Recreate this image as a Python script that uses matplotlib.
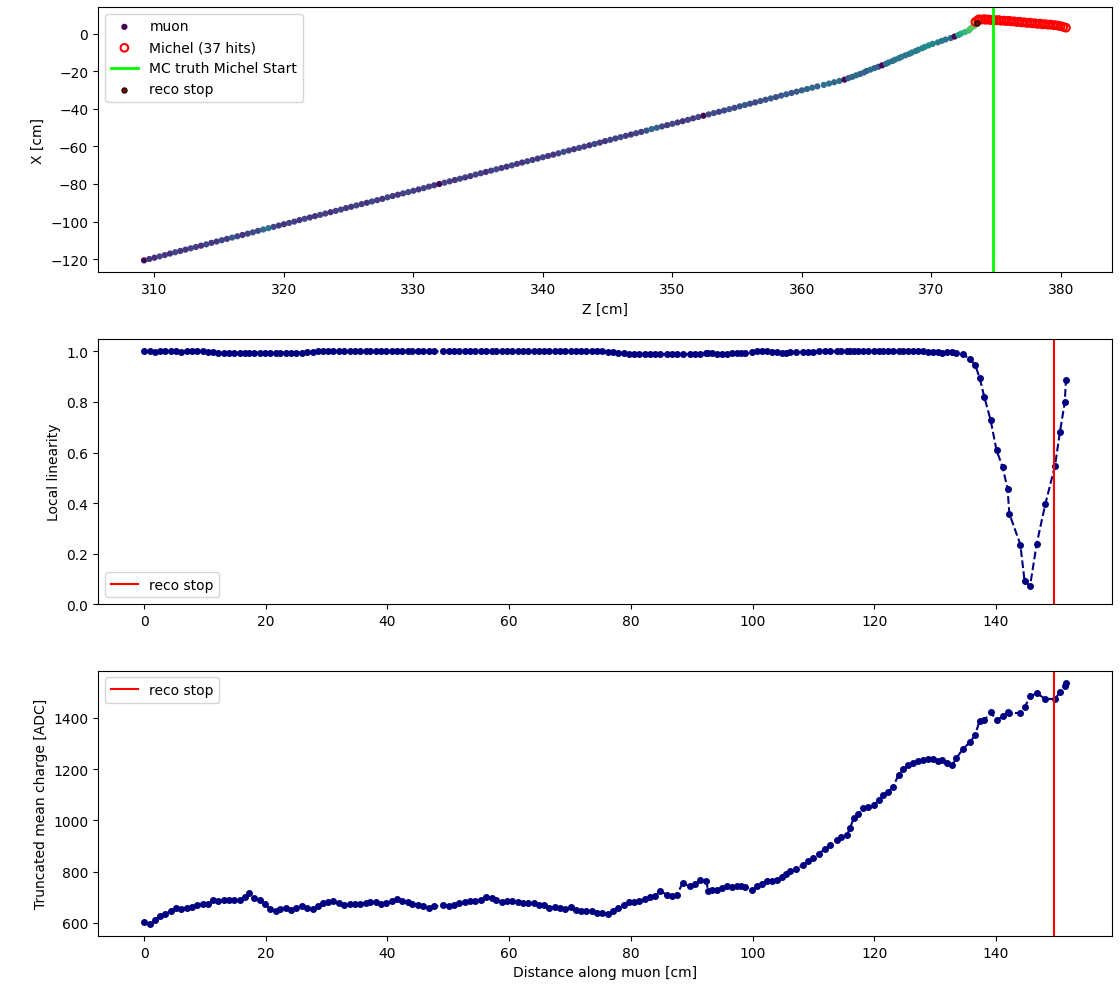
import matplotlib
matplotlib.use("Agg")
import matplotlib.pyplot as plt
import numpy as np

# ---------------- data ----------------
# Top panel: muon hits (Z, X) and hit charge used for colouring
muon_z = [
    309.2, 309.6, 310.0, 310.4, 310.8, 311.2, 311.6, 312.0,
    312.4, 312.8, 313.2, 313.6, 314.0, 314.4, 314.8, 315.2,
    315.6, 316.0, 316.4, 316.8, 317.2, 317.6, 318.0, 318.4,
    318.8, 319.2, 319.6, 320.0, 320.4, 320.8, 321.2, 321.6,
    322.0, 322.4, 322.8, 323.2, 323.6, 324.0, 324.4, 324.8,
    325.2, 325.6, 326.0, 326.4, 326.8, 327.2, 327.6, 328.0,
    328.4, 328.8, 329.2, 329.6, 330.0, 330.4, 330.8, 331.2,
    331.6, 332.0, 332.4, 332.8, 333.2, 333.6, 334.0, 334.4,
    334.8, 335.2, 335.6, 336.0, 336.4, 336.8, 337.2, 337.6,
    338.0, 338.4, 338.8, 339.2, 339.6, 340.0, 340.4, 340.8,
    341.2, 341.6, 342.0, 342.4, 342.8, 343.2, 343.6, 344.0,
    344.4, 344.8, 345.2, 345.6, 346.0, 346.4, 346.8, 347.2,
    347.6, 348.0, 348.4, 348.8, 349.2, 349.6, 350.0, 350.4,
    350.8, 351.2, 351.6, 352.0, 352.4, 352.8, 353.2, 353.6,
    354.0, 354.4, 354.8, 355.2, 355.6, 356.0, 356.4, 356.8,
    357.2, 357.6, 358.0, 358.4, 358.8, 359.2, 359.6, 360.0,
    360.4, 360.8, 361.2, 361.7, 362.1, 362.5, 362.9, 363.3,
    363.6, 363.9, 364.2, 364.5, 364.8, 365.0, 365.3, 365.6, 365.9, 366.2,
    366.5, 366.7, 367.0, 367.2, 367.5, 367.7, 368.0, 368.3, 368.5, 368.8,
    369.0, 369.3, 369.5, 369.8,
    370.1, 370.5, 370.8, 371.1, 371.5, 371.8,
    372.1, 372.3, 372.6, 372.9,
    373.0, 373.1, 373.3, 373.4, 373.5,
]
muon_x = [
    -120.6, -119.9, -119.2, -118.5, -117.8, -117.0, -116.3, -115.6,
    -114.9, -114.2, -113.5, -112.8, -112.1, -111.3, -110.6, -109.9,
    -109.2, -108.5, -107.8, -107.1, -106.4, -105.7, -104.9, -104.2,
    -103.5, -102.8, -102.1, -101.4, -100.7, -100.0, -99.2, -98.5,
    -97.8, -97.1, -96.4, -95.7, -95.0, -94.3, -93.6, -92.8,
    -92.1, -91.4, -90.7, -90.0, -89.3, -88.6, -87.9, -87.1,
    -86.4, -85.7, -85.0, -84.3, -83.6, -82.9, -82.2, -81.4,
    -80.7, -80.0, -79.3, -78.6, -77.9, -77.2, -76.5, -75.8,
    -75.0, -74.3, -73.6, -72.9, -72.2, -71.5, -70.8, -70.1,
    -69.3, -68.6, -67.9, -67.2, -66.5, -65.8, -65.1, -64.4,
    -63.7, -62.9, -62.2, -61.5, -60.8, -60.1, -59.4, -58.7,
    -58.0, -57.2, -56.5, -55.8, -55.1, -54.4, -53.7, -53.0,
    -52.3, -51.6, -50.8, -50.1, -49.4, -48.7, -48.0, -47.3,
    -46.6, -45.9, -45.1, -44.4, -43.7, -43.0, -42.3, -41.6,
    -40.9, -40.2, -39.5, -38.7, -38.0, -37.3, -36.6, -35.9,
    -35.2, -34.5, -33.8, -33.0, -32.3, -31.6, -30.9, -30.2,
    -29.5, -28.8, -28.1, -27.3, -26.6, -25.9, -25.2, -24.5,
    -23.7, -23.0, -22.2, -21.5, -20.7, -19.9, -19.2, -18.4, -17.7, -16.9,
    -16.1, -15.4, -14.6, -13.9, -13.1, -12.4, -11.6, -10.8, -10.1, -9.3,
    -8.6, -7.8, -7.1, -6.3,
    -5.5, -4.7, -3.9, -3.2, -2.4, -1.6,
    -0.8, 0.0, 0.8, 1.6,
    2.4, 3.1, 3.9, 4.6, 5.4,
]
muon_q = [
    100, 240, 210, 280, 250, 220, 290, 240,
    230, 280, 260, 220, 290, 250, 240, 280,
    260, 360, 280, 240, 270, 310, 290, 400,
    460, 290, 250, 230, 280, 260, 240, 290,
    250, 240, 280, 260, 220, 270, 290, 250,
    240, 280, 260, 230, 290, 260, 240, 280,
    250, 230, 270, 300, 260, 240, 280, 260,
    240, 100, 280, 260, 230, 290, 250, 240,
    280, 260, 220, 270, 300, 250, 240, 280,
    260, 230, 290, 260, 240, 280, 250, 240,
    270, 310, 260, 240, 280, 260, 230, 290,
    250, 240, 280, 260, 300, 260, 240, 280,
    260, 330, 400, 380, 290, 250, 290, 260,
    240, 280, 260, 300, 100, 280, 310, 270,
    300, 330, 290, 320, 360, 310, 290, 330,
    320, 350, 310, 340, 370, 330, 350, 370,
    390, 410, 370, 440, 420, 390, 430, 100,
    370, 390, 410, 380, 400, 370, 420, 390, 360, 100,
    410, 440, 420, 460, 430, 470, 440, 450, 480, 460,
    490, 510, 530, 540,
    510, 490, 470, 440, 420, 100,
    600, 650, 700, 720,
    740, 760, 780, 790, 800,
]

michel_z = [373.4, 373.6, 373.7, 373.9, 374.1, 374.2, 374.4, 374.6, 374.8, 375.0,
            375.2, 375.4, 375.6, 375.8, 376.0, 376.2, 376.4, 376.6, 376.8, 377.0,
            377.2, 377.4, 377.6, 377.8, 378.0, 378.2, 378.4, 378.6, 378.8, 379.0,
            379.2, 379.4, 379.6, 379.8, 380.0, 380.2, 380.4]
michel_x = [6.2, 7.2, 7.6, 7.4, 7.7, 7.3, 7.5, 7.1, 7.4, 7.0,
            7.2, 6.8, 6.9, 6.6, 6.8, 6.4, 6.5, 6.1, 6.3, 5.9,
            6.0, 5.6, 5.8, 5.4, 5.5, 5.1, 5.3, 4.9, 5.0, 4.7,
            4.8, 4.5, 4.4, 4.2, 3.9, 3.5, 3.1]

mc_michel_start_z = 374.8
reco_stop_z = 373.5
reco_stop_x = 5.4

# Lower panels: per-hit quantities vs distance along muon
distance = [
    0.0, 0.9, 1.8, 2.6, 3.5, 4.4, 5.3, 6.1, 7.0, 7.9,
    8.7, 9.6, 10.5, 11.4, 12.2, 13.1, 14.0, 14.8, 15.7, 16.6,
    17.2, 18.1, 19.0, 19.8, 20.7, 21.6, 22.4, 23.3, 24.2, 25.0,
    25.9, 26.8, 27.7, 28.5, 29.4, 30.3, 31.1, 32.0, 32.9, 33.8,
    34.6, 35.5, 36.4, 37.2, 38.1, 39.0, 39.8, 40.7, 41.5, 42.4,
    43.3, 44.1, 45.0, 45.9, 46.8, 47.6, 49.2, 50.1, 51.0, 51.8,
    52.7, 53.6, 54.4, 55.3, 56.2, 57.1, 57.9, 58.8, 59.7, 60.5,
    61.4, 62.3, 63.1, 64.0, 64.9, 65.8, 66.6, 67.5, 68.4, 69.2,
    70.1, 71.0, 71.8, 72.7, 73.6, 74.5, 75.3, 76.2, 77.1, 77.9,
    78.8, 79.7, 80.5, 81.4, 82.3, 83.2, 84.0, 84.8, 85.9, 86.7,
    87.5, 88.5, 89.7, 90.5, 91.4, 92.4, 92.7, 93.4, 94.1, 95.0,
    95.8, 96.6, 97.4, 98.1, 98.8, 99.9, 100.8, 101.6, 102.3, 103.2,
    104.0, 104.8, 105.5, 106.2, 107.2, 108.3, 109.1, 110.0, 110.9, 111.9,
    112.8, 113.8, 114.6, 115.5, 116.0, 116.6, 117.4, 118.2, 119.0, 119.9,
    120.7, 121.5, 122.3, 123.1, 124.0, 124.8, 125.6, 126.4, 127.2, 128.0,
    128.8, 129.6, 130.4, 131.1, 132.0, 132.8, 133.5, 134.5, 135.7, 136.6,
    137.3, 138.1, 139.1, 140.1, 141.1, 141.9, 142.2, 144.0, 144.7, 145.6,
    146.7, 148.1, 149.7, 150.5, 151.3, 151.5,
]
linearity = [
    1.000, 1.000, 0.999, 1.000, 1.000, 1.000, 1.000, 0.999, 1.000, 1.000,
    1.000, 1.000, 0.999, 0.999, 0.995, 0.995, 0.995, 0.994, 0.995, 0.995,
    0.995, 0.994, 0.995, 0.995, 0.994, 0.995, 0.995, 0.995, 0.994, 0.995,
    0.995, 0.996, 0.999, 1.000, 1.000, 1.000, 1.000, 1.000, 1.000, 1.000,
    1.000, 1.000, 1.000, 1.000, 1.000, 1.000, 1.000, 1.000, 1.000, 1.000,
    1.000, 1.000, 1.000, 1.000, 1.000, 1.000, 1.000, 1.000, 1.000, 1.000,
    1.000, 1.000, 1.000, 1.000, 1.000, 1.000, 1.000, 1.000, 1.000, 1.000,
    1.000, 1.000, 1.000, 1.000, 1.000, 1.000, 1.000, 1.000, 1.000, 1.000,
    1.000, 1.000, 1.000, 1.000, 1.000, 1.000, 1.000, 0.999, 0.996, 0.995,
    0.994, 0.990, 0.989, 0.989, 0.990, 0.989, 0.989, 0.990, 0.989, 0.990,
    0.990, 0.989, 0.990, 0.990, 0.991, 0.992, 0.993, 0.992, 0.991, 0.991,
    0.991, 0.992, 0.993, 0.994, 0.995, 0.998, 1.000, 1.000, 1.000, 0.999,
    0.997, 0.995, 0.995, 0.996, 0.997, 0.998, 0.999, 0.999, 1.000, 1.000,
    1.000, 1.000, 1.000, 1.000, 1.000, 1.000, 1.000, 1.000, 1.000, 1.000,
    1.000, 1.000, 1.000, 1.000, 1.000, 1.000, 1.000, 1.000, 1.000, 1.000,
    0.999, 0.998, 0.997, 0.995, 0.996, 0.997, 0.995, 0.988, 0.971, 0.945,
    0.896, 0.818, 0.730, 0.608, 0.542, 0.457, 0.358, 0.236, 0.092, 0.072,
    0.240, 0.395, 0.548, 0.680, 0.798, 0.887,
]
trunc_charge = [
    604, 596, 613, 626, 636, 645, 658, 656, 660, 663,
    671, 674, 672, 690, 684, 688, 690, 688, 689, 700,
    716, 697, 688, 672, 656, 648, 656, 657, 652, 660,
    665, 658, 654, 665, 676, 682, 684, 676, 669, 672,
    674, 675, 678, 682, 680, 674, 678, 684, 694, 684,
    680, 675, 670, 665, 658, 664, 668, 665, 670, 678,
    680, 684, 686, 690, 700, 696, 688, 682, 684, 686,
    682, 678, 676, 676, 670, 668, 660, 662, 660, 656,
    662, 650, 645, 646, 648, 640, 638, 634, 648, 660,
    668, 680, 682, 684, 695, 700, 705, 725, 710, 705,
    707, 755, 742, 750, 768, 764, 723, 728, 729, 735,
    742, 740, 745, 742, 739, 729, 742, 752, 764, 765,
    768, 780, 790, 801, 812, 826, 840, 855, 870, 889,
    905, 923, 935, 943, 969, 1008, 1025, 1047, 1052, 1059,
    1078, 1098, 1112, 1131, 1179, 1200, 1215, 1225, 1232, 1236,
    1240, 1238, 1232, 1234, 1225, 1217, 1243, 1277, 1305, 1334,
    1389, 1392, 1422, 1392, 1406, 1422, 1420, 1419, 1441, 1484,
    1497, 1474, 1474, 1500, 1523, 1538,
]
reco_stop_distance = 149.6

# ---------------- figure ----------------
fig, (ax1, ax2, ax3) = plt.subplots(3, 1, figsize=(11.2, 9.87), dpi=100)
fig.subplots_adjust(left=0.0875, right=0.9929, top=0.9919, bottom=0.0507, hspace=0.25)

ax1.scatter(muon_z, muon_x, c=muon_q, cmap="viridis", vmin=100, vmax=1000,
            s=12, label="muon")
ax1.scatter(michel_z, michel_x, facecolors="none", edgecolors="red", s=30,
            linewidths=1.5, label=f"Michel ({len(michel_z)} hits)")
ax1.axvline(mc_michel_start_z, color="lime", lw=2, label="MC truth Michel Start")
ax1.scatter([reco_stop_z], [reco_stop_x], c="darkred", edgecolors="black", s=14,
            linewidths=0.8, zorder=5, label="reco stop")
ax1.set_xlabel("Z [cm]")
ax1.set_ylabel("X [cm]")
ax1.legend(loc="upper left")

ax2.plot(distance, linearity, "o--", color="navy", ms=4)
ax2.axvline(reco_stop_distance, color="red", label="reco stop")
ax2.set_ylim(0, 1.05)
ax2.set_ylabel("Local linearity")
ax2.legend(loc="lower left")

ax3.plot(distance, trunc_charge, "o--", color="navy", ms=4)
ax3.axvline(reco_stop_distance, color="red", label="reco stop")
ax3.set_xlabel("Distance along muon [cm]")
ax3.set_ylabel("Truncated mean charge [ADC]")
ax3.legend(loc="upper left")

fig.savefig("out.png", dpi=100)
